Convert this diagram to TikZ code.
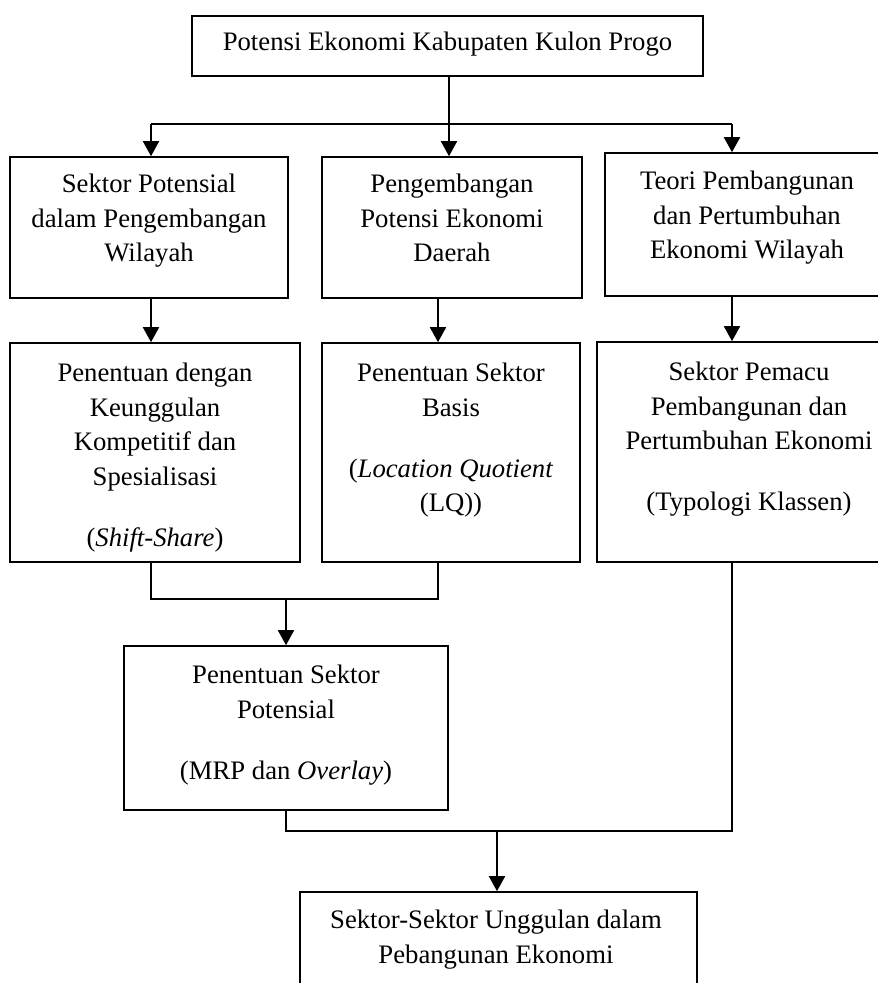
\documentclass[tikz,border=0pt]{standalone}
\usepackage{fontspec}
\setmainfont{Liberation Serif}
\usetikzlibrary{arrows.meta}
\begin{document}
\begin{tikzpicture}[x=1pt,y=-1pt,
  box/.style={draw, line width=1.6pt, inner sep=0pt},
  txt/.style={anchor=north, align=center, inner sep=0pt, font=\fontsize{26.7}{34.5}\selectfont},
  conn/.style={line width=1.8pt},
  arr/.style={conn, -{Triangle[length=15pt,width=16pt]}}]
\useasboundingbox (0,0) rectangle (878,983);
\clip (0,0) rectangle (878,983);
% boxes
\node[box, minimum width=511pt, minimum height=60pt] (top) at (447.5,46) {};
\node[box, minimum width=278pt, minimum height=141pt] (b1) at (149,227.5) {};
\node[box, minimum width=260pt, minimum height=141pt] (b2) at (452,227.5) {};
\node[box, minimum width=284pt, minimum height=143pt] (b3) at (747,224.5) {};
\node[box, minimum width=290pt, minimum height=219pt] (b4) at (155,452.5) {};
\node[box, minimum width=258pt, minimum height=219pt] (b5) at (451,452.5) {};
\node[box, minimum width=302pt, minimum height=220pt] (b6) at (748,452) {};
\node[box, minimum width=324pt, minimum height=164pt] (b7) at (286,728) {};
\node[box, minimum width=397pt, minimum height=118pt] (b8) at (498.5,951) {};
% texts
\node[txt, anchor=base] (t0) at (447.5,50) {Potensi Ekonomi Kabupaten Kulon Progo};
\node[txt] (t1) at (149,173.8) {Sektor Potensial\\dalam Pengembangan\\Wilayah};
\node[txt] (t2) at (452,173.8) {Pengembangan\\Potensi Ekonomi\\Daerah};
\node[txt] (t3) at (747,170.8) {Teori Pembangunan\\dan Pertumbuhan\\Ekonomi Wilayah};
\node[txt] (t4) at (155,362.8) {Penentuan dengan\\Keunggulan\\Kompetitif dan\\Spesialisasi\\[26.5pt](\textit{Shift-Share})};
\node[txt] (t5) at (451,362.8) {Penentuan Sektor\\Basis\\[26.5pt](\textit{Location Quotient}\\(LQ))};
\node[txt] (t6) at (749,361.8) {Sektor Pemacu\\Pembangunan dan\\Pertumbuhan Ekonomi\\[26pt](Typologi Klassen)};
\node[txt] (t7) at (286,664.8) {Penentuan Sektor\\Potensial\\[26.5pt](MRP dan \textit{Overlay})};
\node[txt] (t8) at (496,909.8) {Sektor-Sektor Unggulan dalam\\Pebangunan Ekonomi};
% junction coordinates
\coordinate (j1) at (449,124);
\coordinate (j1l) at (151,124);
\coordinate (j1r) at (732,124);
\coordinate (j2l) at (151,599);
\coordinate (j2r) at (438,599);
\coordinate (j2m) at (286,599);
\coordinate (j3l) at (286,831);
\coordinate (j3r) at (732,831);
\coordinate (j3m) at (497,831);
% connectors
\draw[conn] (top.south -| j1) -- (j1);
\draw[conn] (j1l) -- (j1r);
\draw[arr] (j1l) -- (j1l |- b1.north);
\draw[arr] (j1) -- (j1 |- b2.north);
\draw[arr] (j1r) -- (j1r |- b3.north);
\draw[arr] (b1.south -| j1l) -- (j1l |- b4.north);
\draw[arr] (b2.south -| j2r) -- (j2r |- b5.north);
\draw[arr] (b3.south -| j1r) -- (j1r |- b6.north);
\draw[conn] (b4.south -| j2l) -- (j2l) -- (j2r) -- (b5.south -| j2r);
\draw[arr] (j2m) -- (b7.north);
\draw[conn] (b7.south) -- (j3l) -- (j3r) -- (b6.south -| j3r);
\draw[arr] (j3m) -- (j3m |- b8.north);
\end{tikzpicture}
\end{document}
